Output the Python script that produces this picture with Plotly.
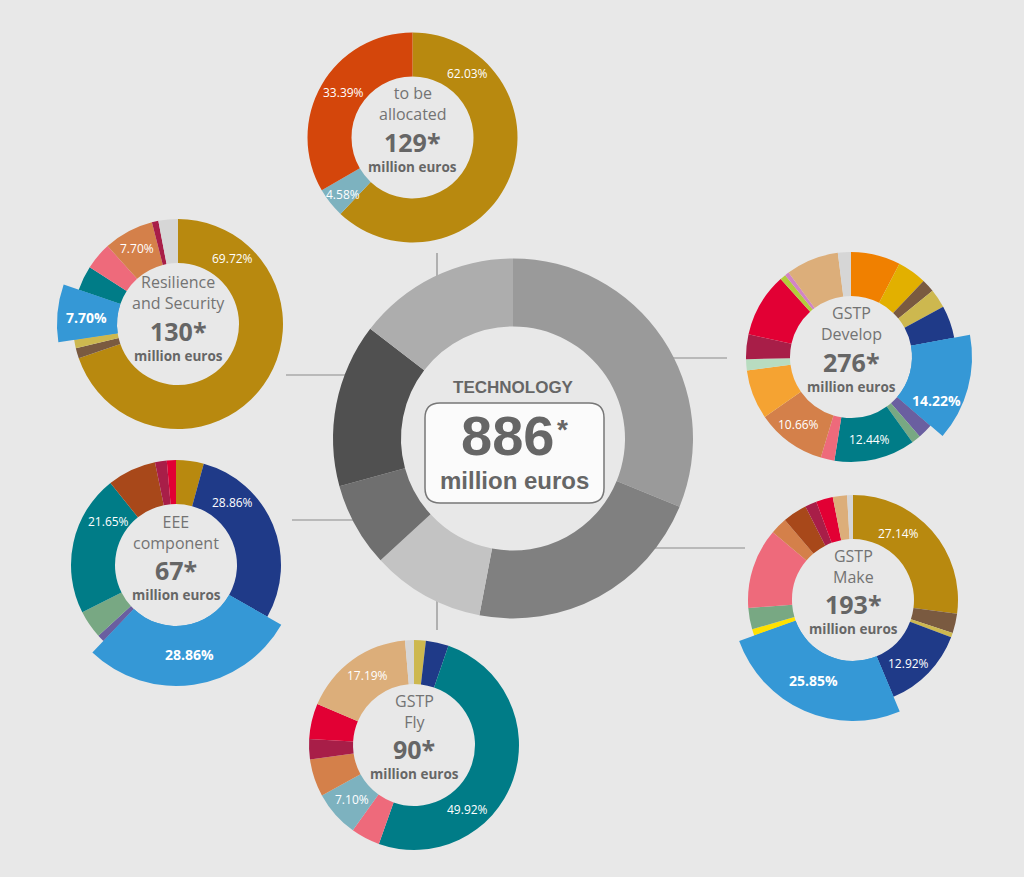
import plotly.graph_objects as go

W, H = 1024, 877
BG = "#e8e8e8"
TXT = "#666666"
FONT = "Open Sans"
FONT2 = "Liberation Sans"

# ---------------- data ----------------
tech_labels = ["GSTP Develop", "GSTP Make", "GSTP Fly", "EEE component",
               "Resilience and Security", "to be allocated"]
tech_values = [276, 193, 90, 67, 130, 129]
tech_total = 886

alloc_values = [62.03, 4.58, 33.39]
alloc_colors = ["#b8890f", "#7db2bf", "#d4460b"]

res_values = [69.72, 1.6, 1.3, 7.70, 3.8, 4.2, 7.70, 1.0, 3.0]
res_colors = ["#b8890f", "#7a5a40", "#cdb84f", "#3598d6", "#007c87",
              "#ee6a7b", "#d4804a", "#a81e48", "#d6d6d6"]

dev_values = [7.6, 4.5, 2.0, 2.9, 5.0, 14.22, 2.3, 1.4, 12.44, 2.1, 10.66,
              7.6, 1.7, 3.8, 9.8, 0.9, 0.65, 8.1, 2.0]
dev_colors = ["#f08000", "#e2b000", "#7a5a40", "#cdb84f", "#1f3a88",
              "#3598d6", "#6a5fa0", "#78a883", "#007c87", "#ee6a7b",
              "#d4804a", "#f5a332", "#b8dcc0", "#a81e48", "#e20034",
              "#b3cc3c", "#d284c4", "#dcae7a", "#d6d6d6"]

eee_values = [4.25, 28.86, 28.86, 1.1, 4.3, 21.65, 7.5, 1.8, 1.4]
eee_colors = ["#b8890f", "#1f3a88", "#3598d6", "#6a5fa0", "#78a883",
              "#007c87", "#a8481a", "#a81e48", "#e20034"]

make_values = [27.14, 3.0, 0.7, 12.92, 25.85, 1.0, 3.3, 12.4, 2.6, 3.75,
               1.8, 2.6, 2.2, 0.9]
make_colors = ["#b8890f", "#7a5a40", "#cdb84f", "#1f3a88", "#3598d6",
               "#ffe100", "#78a883", "#ee6a7b", "#d4804a", "#a8481a",
               "#a81e48", "#e20034", "#dcae7a", "#d6d6d6"]

fly_values = [1.8, 3.5, 49.92, 4.45, 7.10, 5.75, 3.1, 5.45, 17.19, 1.36]
fly_colors = ["#cdb84f", "#1f3a88", "#007c87", "#ee6a7b", "#7db2bf",
              "#d4804a", "#a81e48", "#e20034", "#dcae7a", "#d6d6d6"]

# ---------------- styles / layout ----------------
tech_colors = ["#9a9a9a", "#808080", "#c3c3c3", "#6f6f6f", "#505050", "#adadad"]

donuts = [
    dict(values=alloc_values, colors=alloc_colors, cx=412.5, cy=137.5,
         title=["to be", "allocated"], amount=129, explode=None, ty=137.5),
    dict(values=res_values, colors=res_colors, cx=178, cy=324,
         title=["Resilience", "and Security"], amount=130, explode=3, ty=326.5),
    dict(values=dev_values, colors=dev_colors, cx=851, cy=357,
         title=["GSTP", "Develop"], amount=276, explode=5, ty=357.5),
    dict(values=eee_values, colors=eee_colors, cx=176, cy=565,
         title=["EEE", "component"], amount=67, explode=2, ty=566),
    dict(values=make_values, colors=make_colors, cx=853, cy=600,
         title=["GSTP", "Make"], amount=193, explode=4, ty=600),
    dict(values=fly_values, colors=fly_colors, cx=414, cy=745,
         title=["GSTP", "Fly"], amount=90, explode=None, ty=745),
]
R_OUT, R_IN, R_EXP = 105, 61, 121

# percentage labels: (donut index, slice index, x, y, bold)
pct_labels = [
    (0, 0, 467, 73, False), (0, 2, 343, 92, False), (0, 1, 343, 194, False),
    (1, 0, 232, 258, False), (1, 6, 137, 248, False), (1, 3, 86, 317, True),
    (2, 5, 936, 400, True), (2, 8, 869, 439, False), (2, 10, 798, 424, False),
    (3, 1, 232, 502, False), (3, 5, 108, 521, False), (3, 2, 189, 654, True),
    (4, 0, 898, 533, False), (4, 3, 908, 663, False), (4, 4, 813, 680, True),
    (5, 8, 367, 675, False), (5, 4, 352, 799, False), (5, 2, 467, 809, False),
]

connectors = [
    (437, 253, 437, 300), (650, 358, 727, 358), (633, 548, 745, 548),
    (437, 582, 437, 630), (292, 520, 370, 520), (286, 375, 362, 375),
]

# font vertical metrics (ascent, descent) per em
MET = {FONT: (1.069, 0.293), FONT2: (0.905, 0.212)}


def ymid(baseline, size, family):
    a, d = MET[family]
    return baseline + (d - a) / 2 * size


def domain(cx, cy, r):
    return dict(x=[(cx - r) / W, (cx + r) / W],
                y=[1 - (cy + r) / H, 1 - (cy - r) / H])


fig = go.Figure()

# central donut
fig.add_trace(go.Pie(
    labels=tech_labels, values=tech_values, sort=False, direction="clockwise",
    rotation=0, hole=112 / 180, domain=domain(513, 438.5, 180),
    marker=dict(colors=tech_colors, line=dict(width=0)),
    textinfo="none", hoverinfo="skip", showlegend=False))

ann = []
for i, d in enumerate(donuts):
    fig.add_trace(go.Pie(
        values=d["values"], sort=False, direction="clockwise", rotation=0,
        hole=R_IN / R_OUT, domain=domain(d["cx"], d["cy"], R_OUT),
        marker=dict(colors=d["colors"], line=dict(width=0)),
        textinfo="none", hoverinfo="skip", showlegend=False))
    if d["explode"] is not None:
        cols = ["rgba(0,0,0,0)"] * len(d["values"])
        cols[d["explode"]] = d["colors"][d["explode"]]
        fig.add_trace(go.Pie(
            values=d["values"], sort=False, direction="clockwise", rotation=0,
            hole=R_IN / R_EXP, domain=domain(d["cx"], d["cy"], R_EXP),
            marker=dict(colors=cols, line=dict(width=0)),
            textinfo="none", hoverinfo="skip", showlegend=False))
    ty = d["ty"]
    # title block (two lines)
    fs_t = 16
    b1 = ty - 38
    a, dsc = MET[FONT]
    top = b1 - a * fs_t
    bot = b1 + 1.3 * fs_t + dsc * fs_t
    ann.append(dict(x=d["cx"], y=(top + bot) / 2, text="<br>".join(d["title"]),
                    showarrow=False, align="center",
                    font=dict(family=FONT, size=fs_t, color="#737373")))
    # amount
    ann.append(dict(x=d["cx"], y=ymid(ty + 14, 25, FONT),
                    text=f"<b>{d['amount']}*</b>", showarrow=False,
                    font=dict(family=FONT, size=25, color=TXT)))
    ann.append(dict(x=d["cx"], y=ymid(ty + 34.5, 13.5, FONT),
                    text="<b>million euros</b>", showarrow=False,
                    font=dict(family=FONT, size=13.5, color=TXT)))

for di, si, x, y, bold in pct_labels:
    v = donuts[di]["values"][si]
    s = f"{v:.2f}%"
    ann.append(dict(x=x, y=y, text=f"<b>{s}</b>" if bold else s, showarrow=False,
                    font=dict(family=FONT, size=14 if bold else 12, color="white")))

# central text
ann.append(dict(x=513, y=387, text="<b>TECHNOLOGY</b>", showarrow=False,
                font=dict(family=FONT2, size=17, color=TXT)))
ann.append(dict(x=507.5, y=ymid(455, 56, FONT2), text=f"<b>{tech_total}</b>",
                showarrow=False, font=dict(family=FONT2, size=56, color=TXT)))
ann.append(dict(x=562.5, y=ymid(439, 28, FONT2), text="<b>*</b>",
                showarrow=False, font=dict(family=FONT2, size=28, color=TXT)))
ann.append(dict(x=514, y=ymid(488.5, 24, FONT2), text="<b>million euros</b>",
                showarrow=False, font=dict(family=FONT2, size=24, color=TXT)))

shapes = []
for x0, y0, x1, y1 in connectors:
    shapes.append(dict(type="line", xref="x", yref="y", x0=x0, y0=y0, x1=x1, y1=y1,
                       line=dict(color="#8a8a8a", width=1.2), layer="below"))

# rounded box
bx0, by0, bx1, by1, rr = 425, 403, 604, 503, 15
path = (f"M {bx0+rr},{by0} L {bx1-rr},{by0} Q {bx1},{by0} {bx1},{by0+rr} "
        f"L {bx1},{by1-rr} Q {bx1},{by1} {bx1-rr},{by1} L {bx0+rr},{by1} "
        f"Q {bx0},{by1} {bx0},{by1-rr} L {bx0},{by0+rr} Q {bx0},{by0} {bx0+rr},{by0} Z")
shapes.append(dict(type="path", xref="x", yref="y", path=path,
                   fillcolor="#fbfbfb", line=dict(color="#777777", width=1.5),
                   layer="above"))

fig.update_layout(
    width=W, height=H, margin=dict(l=0, r=0, t=0, b=0),
    paper_bgcolor=BG, plot_bgcolor=BG,
    xaxis=dict(range=[0, W], visible=False, fixedrange=True),
    yaxis=dict(range=[H, 0], visible=False, fixedrange=True),
    annotations=ann, shapes=shapes, showlegend=False,
)

fig.write_html("out.html", config={"displayModeBar": False},
               post_script="document.body.style.margin='0';document.body.style.overflow='hidden';")
